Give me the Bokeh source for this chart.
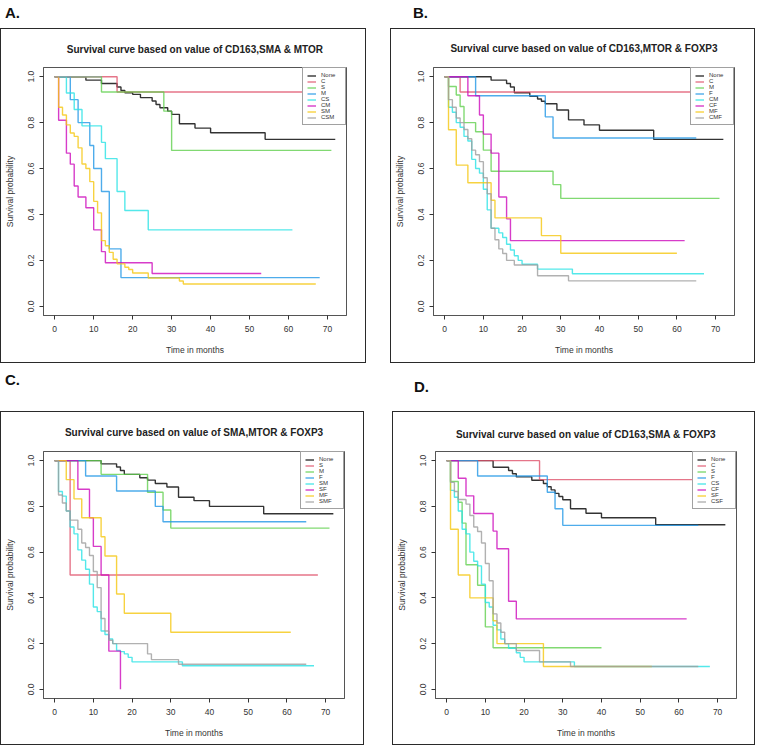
from bokeh.plotting import figure
from bokeh.models import Range1d, FixedTicker, PrintfTickFormatter, Div, Spacer, LinearAxis
from bokeh.layouts import row, column
from bokeh.embed import file_html
from bokeh.resources import INLINE

# ---------------- data ----------------
X_TICKS = [0, 10, 20, 30, 40, 50, 60, 70]
Y_TICKS = [0.0, 0.2, 0.4, 0.6, 0.8, 1.0]
PALETTE = ["#000000", "#DF536B", "#61D04F", "#2297E6", "#28E2E5", "#CD0BBC", "#F5C710", "#9E9E9E"]

TITLE_A = "Survival curve based on value of CD163,SMA & MTOR"
TITLE_B = "Survival curve based on value of CD163,MTOR & FOXP3"
TITLE_C = "Survival curve based on value of SMA,MTOR & FOXP3"
TITLE_D = "Survival curve based on value of CD163,SMA & FOXP3"

GROUPS_A = ["None", "C", "S", "M", "CS", "CM", "SM", "CSM"]
GROUPS_B = ["None", "C", "M", "F", "CM", "CF", "MF", "CMF"]
GROUPS_C = ["None", "S", "M", "F", "SM", "SF", "MF", "SMF"]
GROUPS_D = ["None", "C", "S", "F", "CS", "CF", "SF", "CSF"]

# Panel A
A_none_t = [0, 8, 12, 16, 17, 18, 20, 22, 25, 26, 27, 29, 30, 32, 36, 40, 54, 72]
A_none_s = [1.0, 0.985, 0.970, 0.955, 0.940, 0.930, 0.923, 0.909, 0.894, 0.879, 0.865, 0.850, 0.836, 0.795, 0.776, 0.756, 0.727, 0.727]
A_c_t = [0, 16, 71]
A_c_s = [1.0, 0.933, 0.933]
A_s_t = [0, 12, 28, 30, 71]
A_s_s = [1.0, 0.933, 0.850, 0.679, 0.679]
A_m_t = [0, 4, 6, 9, 10, 12, 14, 17, 68]
A_m_s = [1.0, 0.9, 0.8, 0.7, 0.6, 0.5, 0.25, 0.125, 0.125]
A_cs_t = [0, 3, 5, 7, 12, 13, 16, 18, 24, 61]
A_cs_s = [1.0, 0.929, 0.857, 0.786, 0.714, 0.643, 0.5, 0.417, 0.333, 0.333]
A_cm_t = [0, 1, 3, 4, 5, 6, 8, 10, 12, 13, 25, 53]
A_cm_s = [1.0, 0.810, 0.667, 0.619, 0.524, 0.476, 0.429, 0.333, 0.238, 0.190, 0.143, 0.143]
A_sm_t = [0, 1, 2, 3, 4, 5, 6, 7, 8, 9, 10, 11, 12, 13, 14, 15, 16, 18, 19, 20, 24, 32, 33, 67]
A_sm_s = [1.0, 0.867, 0.833, 0.790, 0.755, 0.740, 0.690, 0.620, 0.600, 0.543, 0.457, 0.407, 0.286, 0.264,
          0.235, 0.205, 0.185, 0.170, 0.160, 0.145, 0.123, 0.110, 0.097, 0.097]
A_csm_t = [0, 12]
A_csm_s = [1.0, 1.0]

# Panel B
B_none_t = [0, 12, 16, 17, 18, 22, 24, 25, 26, 29, 32, 36, 40, 54, 72]
B_none_s = [1.0, 0.985, 0.970, 0.955, 0.930, 0.915, 0.903, 0.893, 0.882, 0.855, 0.812, 0.790, 0.767, 0.727, 0.727]
B_c_t = [0, 4, 71]
B_c_s = [1.0, 0.933, 0.933]
B_m_t = [0, 1, 3, 4, 5, 8, 10, 12, 28, 30, 71]
B_m_s = [1.0, 0.957, 0.920, 0.870, 0.800, 0.760, 0.680, 0.588, 0.530, 0.470, 0.470]
B_f_t = [0, 8, 26, 28, 65]
B_f_s = [1.0, 0.917, 0.825, 0.733, 0.733]
B_cm_t = [0, 1, 2, 3, 4, 5, 6, 7, 8, 9, 10, 11, 12, 14, 15, 16, 17, 18, 19, 20, 24, 33, 67]
B_cm_s = [1.0, 0.867, 0.845, 0.800, 0.780, 0.740, 0.720, 0.640, 0.600, 0.580, 0.510, 0.420, 0.340, 0.320,
          0.300, 0.270, 0.245, 0.220, 0.200, 0.183, 0.162, 0.142, 0.142]
B_cf_t = [0, 6, 9, 10, 12, 14, 16, 17, 62]
B_cf_s = [1.0, 0.917, 0.833, 0.750, 0.667, 0.476, 0.381, 0.286, 0.286]
B_mf_t = [0, 1, 3, 6, 12, 13, 25, 30, 60]
B_mf_s = [1.0, 0.769, 0.615, 0.538, 0.462, 0.385, 0.308, 0.231, 0.231]
B_cmf_t = [0, 1, 2, 3, 4, 5, 6, 7, 8, 9, 10, 11, 12, 13, 14, 15, 16, 18, 24, 32, 65]
B_cmf_s = [1.0, 0.900, 0.867, 0.820, 0.800, 0.770, 0.730, 0.680, 0.660, 0.630, 0.560, 0.490, 0.340, 0.290,
           0.250, 0.230, 0.200, 0.180, 0.133, 0.111, 0.111]

# Panel C
C_none_t = [0, 12, 16, 17, 18, 22, 24, 26, 29, 32, 36, 40, 54, 72]
C_none_s = [1.0, 0.986, 0.972, 0.957, 0.940, 0.925, 0.915, 0.900, 0.885, 0.840, 0.825, 0.800, 0.768, 0.768]
C_s_t = [0, 4, 68]
C_s_s = [1.0, 0.5, 0.5]
C_m_t = [0, 12, 24, 28, 30, 71]
C_m_s = [1.0, 0.940, 0.862, 0.784, 0.705, 0.705]
C_f_t = [0, 8, 16, 26, 28, 65]
C_f_s = [1.0, 0.933, 0.867, 0.800, 0.733, 0.733]
C_sm_t = [0, 1, 2, 3, 4, 5, 6, 7, 8, 9, 10, 11, 12, 13, 14, 15, 16, 17, 18, 19, 20, 33, 67]
C_sm_s = [1.0, 0.865, 0.845, 0.780, 0.710, 0.680, 0.610, 0.565, 0.525, 0.460, 0.360, 0.340, 0.255, 0.240,
          0.220, 0.200, 0.170, 0.165, 0.155, 0.140, 0.120, 0.103, 0.103]
C_sf_t = [0, 6, 9, 10, 12, 14, 17]
C_sf_s = [1.0, 0.875, 0.750, 0.625, 0.500, 0.167, 0.0]
C_mf_t = [0, 3, 5, 7, 12, 13, 16, 18, 30, 61]
C_mf_s = [1.0, 0.917, 0.833, 0.750, 0.667, 0.583, 0.417, 0.333, 0.250, 0.250]
C_smf_t = [0, 1, 2, 3, 4, 6, 7, 8, 9, 10, 11, 12, 13, 14, 15, 24, 25, 32, 65]
C_smf_s = [1.0, 0.850, 0.815, 0.780, 0.740, 0.700, 0.640, 0.620, 0.585, 0.515, 0.445, 0.310, 0.255, 0.215,
           0.200, 0.155, 0.130, 0.110, 0.110]

# Panel D
D_none_t = [0, 12, 16, 17, 18, 22, 25, 26, 27, 28, 29, 30, 32, 36, 40, 54, 72]
D_none_s = [1.0, 0.971, 0.957, 0.943, 0.929, 0.914, 0.900, 0.886, 0.872, 0.857, 0.843, 0.829, 0.790, 0.770,
            0.750, 0.720, 0.720]
D_c_t = [0, 24, 71]
D_c_s = [1.0, 0.917, 0.917]
D_s_t = [0, 1, 3, 4, 5, 8, 10, 12, 40]
D_s_s = [1.0, 0.909, 0.818, 0.727, 0.545, 0.455, 0.273, 0.182, 0.182]
D_f_t = [0, 8, 26, 28, 30, 65]
D_f_s = [1.0, 0.933, 0.862, 0.790, 0.717, 0.717]
D_cs_t = [0, 1, 2, 3, 4, 5, 6, 7, 8, 9, 10, 11, 12, 13, 14, 15, 16, 18, 19, 20, 33, 68]
D_cs_s = [1.0, 0.870, 0.840, 0.780, 0.700, 0.680, 0.600, 0.560, 0.540, 0.460, 0.380, 0.360, 0.280, 0.260,
          0.220, 0.200, 0.180, 0.160, 0.140, 0.120, 0.100, 0.100]
D_cf_t = [0, 3, 5, 7, 12, 13, 16, 18, 62]
D_cf_s = [1.0, 0.923, 0.846, 0.769, 0.692, 0.615, 0.385, 0.308, 0.308]
D_sf_t = [0, 1, 3, 6, 12, 13, 25, 53]
D_sf_s = [1.0, 0.7, 0.5, 0.4, 0.3, 0.2, 0.1, 0.1]
D_csf_t = [0, 1, 2, 3, 5, 6, 7, 8, 9, 10, 11, 12, 13, 14, 15, 18, 24, 32, 65]
D_csf_s = [1.0, 0.905, 0.865, 0.830, 0.810, 0.760, 0.710, 0.690, 0.640, 0.550, 0.475, 0.330, 0.290, 0.250,
           0.200, 0.170, 0.120, 0.100, 0.100]

CURVES_A = [(A_none_t, A_none_s), (A_c_t, A_c_s), (A_s_t, A_s_s), (A_m_t, A_m_s),
            (A_cs_t, A_cs_s), (A_cm_t, A_cm_s), (A_sm_t, A_sm_s), (A_csm_t, A_csm_s)]
CURVES_B = [(B_none_t, B_none_s), (B_c_t, B_c_s), (B_m_t, B_m_s), (B_f_t, B_f_s),
            (B_cm_t, B_cm_s), (B_cf_t, B_cf_s), (B_mf_t, B_mf_s), (B_cmf_t, B_cmf_s)]
CURVES_C = [(C_none_t, C_none_s), (C_s_t, C_s_s), (C_m_t, C_m_s), (C_f_t, C_f_s),
            (C_sm_t, C_sm_s), (C_sf_t, C_sf_s), (C_mf_t, C_mf_s), (C_smf_t, C_smf_s)]
CURVES_D = [(D_none_t, D_none_s), (D_c_t, D_c_s), (D_s_t, D_s_s), (D_f_t, D_f_s),
            (D_cs_t, D_cs_s), (D_cf_t, D_cf_s), (D_sf_t, D_sf_s), (D_csf_t, D_csf_s)]

FONT = "Liberation Sans"
X_MIN, X_MAX = -2.88, 74.88
Y_MIN, Y_MAX = -0.04, 1.04


def make_panel(title, groups, curves, w, h, mb, title_standoff):
    p = figure(width=w, height=h, output_backend="svg", toolbar_location=None,
               x_range=Range1d(X_MIN, X_MAX), y_range=Range1d(Y_MIN, Y_MAX),
               min_border_left=mb[0], min_border_right=mb[1],
               min_border_top=mb[2], min_border_bottom=mb[3],
               styles={"border": "1.5px solid #2a2a2a"})
    p.grid.visible = False
    p.outline_line_color = "#555555"
    p.outline_line_width = 1
    p.background_fill_color = "white"
    p.border_fill_color = "white"

    for lab, (t, s), col in zip(groups, curves, PALETTE):
        p.step(t, s, mode="after", line_color=col, line_width=1.4, line_alpha=0.8,
               legend_label=lab)

    xb = p.below[0]
    yl = p.left[0]
    xb.ticker = FixedTicker(ticks=X_TICKS)
    yl.ticker = FixedTicker(ticks=Y_TICKS)
    yl.formatter = PrintfTickFormatter(format="%.1f")
    for ax in (xb, yl):
        ax.major_tick_out = 4
        ax.major_tick_in = 0
        ax.minor_tick_out = 0
        ax.minor_tick_in = 0
        ax.axis_line_color = "#555555"
        ax.major_tick_line_color = "#333333"
        ax.major_label_text_font = FONT
        ax.major_label_text_font_size = "8.5px"
        ax.major_label_text_color = "#333333"
        ax.axis_label_text_font = FONT
        ax.axis_label_text_font_size = "8.5px"
        ax.axis_label_text_font_style = "normal"
        ax.axis_label_text_color = "#333333"
    xb.axis_label = "Time in months"
    xb.major_label_standoff = 6
    xb.axis_label_standoff = 10
    yl.axis_label = "Survival probability"
    yl.major_label_orientation = "parallel"
    yl.major_label_standoff = 5
    yl.axis_label_standoff = 11

    # main title, carried by a tick-less axis above the frame
    top = LinearAxis(ticker=FixedTicker(ticks=[]), axis_label=title,
                     axis_line_color=None, major_tick_out=0, major_tick_in=0,
                     minor_tick_out=0, minor_tick_in=0,
                     major_label_text_font_size="0px",
                     axis_label_standoff=title_standoff,
                     axis_label_text_font=FONT, axis_label_text_font_size="10px",
                     axis_label_text_font_style="bold", axis_label_text_color="#222222")
    p.add_layout(top, "above")

    lg = p.legend[0]
    lg.location = "top_right"
    lg.margin = 0
    lg.padding = 4
    lg.spacing = 0
    lg.label_text_font = FONT
    lg.label_text_font_size = "6px"
    lg.label_text_color = "#333333"
    lg.label_height = 5
    lg.glyph_height = 5
    lg.glyph_width = 9
    lg.label_standoff = 5
    lg.border_line_color = "#444444"
    lg.border_line_width = 1
    lg.background_fill_alpha = 1.0
    return p


def label_div(txt, w, h, pad_left, pad_top):
    return Div(text=f'<div style="padding-left:{pad_left}px;padding-top:{pad_top}px;'
                    f'font-family:{FONT};font-size:15px;font-weight:bold;line-height:15px;color:#111">{txt}</div>',
               width=w, height=h)


pA = make_panel(TITLE_A, GROUPS_A, CURVES_A, 366, 335, (41, 21, 38, 49), 13)
pB = make_panel(TITLE_B, GROUPS_B, CURVES_B, 365, 335, (42, 22, 38, 49), 14)
pC = make_panel(TITLE_C, GROUPS_C, CURVES_C, 364, 334, (41, 21, 39, 48), 14)
pD = make_panel(TITLE_D, GROUPS_D, CURVES_D, 363, 334, (42, 20, 39, 48), 12)

layout = column(
    row(label_div("A.", 393, 18, 0, 0), label_div("B.", 368, 18, 5, 0)),
    row(pA, Spacer(width=24, height=10), pB),
    row(label_div("C.", 395, 38, 0, 4), label_div("D.", 366, 38, 4, 11)),
    row(pC, Spacer(width=28, height=10), pD),
)

open("out.html", "w").write(file_html(layout, INLINE))
